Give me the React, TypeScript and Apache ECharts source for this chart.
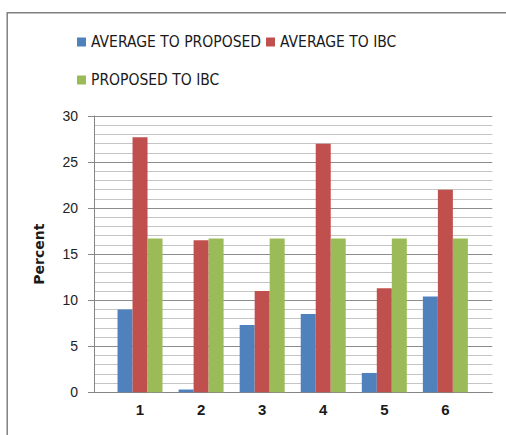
import React, { useEffect, useRef } from "react";
import * as echarts from "echarts";

const categories = ["1", "2", "3", "4", "5", "6"];
const averageToProposed = [9.0, 0.3, 7.3, 8.5, 2.1, 10.4];
const averageToIBC = [27.7, 16.5, 11.0, 27.0, 11.3, 22.0];
const proposedToIBC = [16.7, 16.7, 16.7, 16.7, 16.7, 16.7];
const seriesNames = ["AVERAGE TO PROPOSED", "AVERAGE TO IBC", "PROPOSED TO IBC"];
const colors = ["#4F81BD", "#C0504D", "#9BBB59"];
const yMin = 0;
const yMax = 30;
const yInterval = 5;

export default function App() {
  const ref = useRef<HTMLDivElement>(null);
  useEffect(() => {
    if (!ref.current) return;
    const chart = echarts.init(ref.current, null, { renderer: "svg" });
    const legendText = {
      fontFamily: "'DejaVu Sans Condensed', 'Liberation Sans', sans-serif",
      fontSize: 15.5,
      color: "#1a1a1a",
    };
    const option: any = {
      animation: false,
      backgroundColor: "#ffffff",
      legend: [
        {
          data: [seriesNames[0], seriesNames[1]],
          left: 77,
          top: 34,
          padding: 0,
          icon: "rect",
          itemWidth: 9,
          itemHeight: 9,
          itemGap: 5,
          textStyle: legendText,
        },
        {
          data: [seriesNames[2]],
          left: 77,
          top: 72,
          padding: 0,
          icon: "rect",
          itemWidth: 9,
          itemHeight: 9,
          itemGap: 5,
          textStyle: legendText,
        },
      ],
      graphic: [
        {
          type: "rect",
          shape: { x: 7.2, y: 12.7, width: 560, height: 480 },
          style: { fill: "none", stroke: "#808080", lineWidth: 1.5 },
          silent: true,
        },
      ],
      grid: [
        { left: 94, right: 13.7, top: 116, bottom: 42.7 },
        { left: 109.5, right: 30.1, top: 116, bottom: 42.7 },
      ],
      xAxis: [
        {
          type: "value",
          gridIndex: 0,
          min: 0,
          max: 1,
          axisLine: { show: true, onZero: false, lineStyle: { color: "#868686", width: 1 } },
          axisTick: { show: false },
          axisLabel: { show: false },
          splitLine: { show: false },
        },
        {
          type: "category",
          gridIndex: 1,
          data: categories,
          axisLine: { show: false },
          axisTick: { show: false },
          axisLabel: {
            margin: 10,
            fontFamily: "'Liberation Sans', sans-serif",
            fontWeight: "bold",
            fontSize: 15,
            color: "#1a1a1a",
          },
          splitLine: { show: false },
        },
      ],
      yAxis: [
        {
          type: "value",
          gridIndex: 0,
          min: yMin,
          max: yMax,
          interval: yInterval,
          name: "Percent",
          nameLocation: "middle",
          nameGap: 48,
          nameTextStyle: {
            fontFamily: "'DejaVu Sans', sans-serif",
            fontWeight: "bold",
            fontSize: 14,
            color: "#1a1a1a",
          },
          axisLine: { show: true, lineStyle: { color: "#868686", width: 1 } },
          axisTick: { show: true, length: 6, lineStyle: { color: "#868686" } },
          axisLabel: {
            margin: 16,
            fontFamily: "'Liberation Sans', sans-serif",
            fontSize: 14,
            color: "#222222",
          },
          splitLine: { show: true, lineStyle: { color: "#8c8c8c", width: 1 } },
          minorTick: { show: false, splitNumber: 5 },
          minorSplitLine: { show: true, lineStyle: { color: "#c4c4c4", width: 1 } },
        },
        {
          type: "value",
          gridIndex: 1,
          min: yMin,
          max: yMax,
          interval: yInterval,
          show: false,
          splitLine: { show: false },
        },
      ],
      series: [
        {
          name: seriesNames[0],
          type: "bar",
          xAxisIndex: 1,
          yAxisIndex: 1,
          data: averageToProposed,
          barWidth: 15,
          barGap: "0%",
          itemStyle: { color: colors[0] },
        },
        {
          name: seriesNames[1],
          type: "bar",
          xAxisIndex: 1,
          yAxisIndex: 1,
          data: averageToIBC,
          barWidth: 15,
          barGap: "0%",
          itemStyle: { color: colors[1] },
        },
        {
          name: seriesNames[2],
          type: "bar",
          xAxisIndex: 1,
          yAxisIndex: 1,
          data: proposedToIBC,
          barWidth: 15,
          barGap: "0%",
          itemStyle: { color: colors[2] },
        },
      ],
    };
    chart.setOption(option);
    return () => chart.dispose();
  }, []);
  return (
    <div
      ref={ref}
      style={{ position: "absolute", left: 0, top: 0, width: 506, height: 435 }}
    />
  );
}
